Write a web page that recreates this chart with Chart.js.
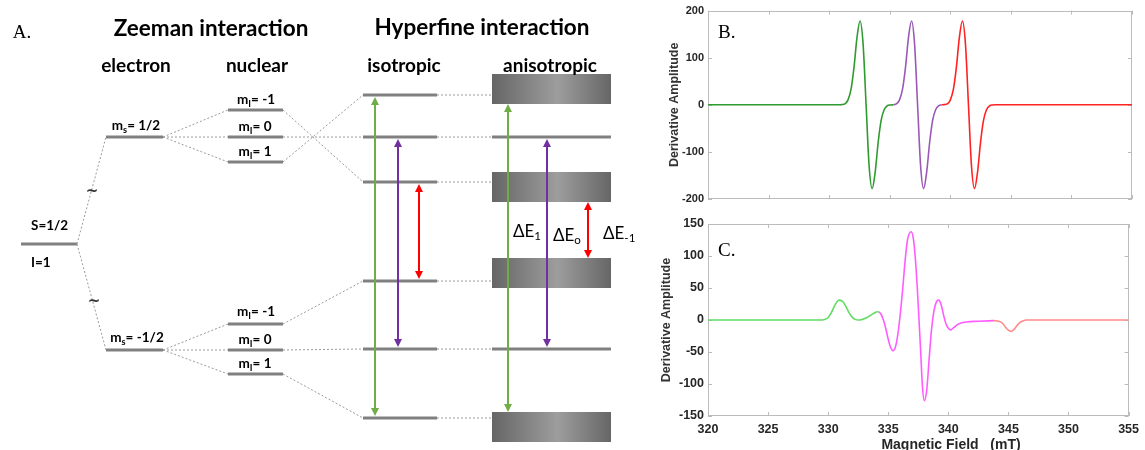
<!DOCTYPE html>
<html>
<head>
<meta charset="utf-8">
<script src="https://cdn.jsdelivr.net/npm/chart.js@4.4.1/dist/chart.umd.min.js"></script>
<style>
  html, body { margin: 0; padding: 0; background: #fff; }
  body { width: 1145px; height: 450px; position: relative; overflow: hidden; font-family: Lato, sans-serif; color: #000; }
  canvas { position: absolute; }
  .t { position: absolute; transform: translate(-50%, -50%); white-space: nowrap; line-height: 1; }
  .l { position: absolute; transform: translateY(-50%); white-space: nowrap; line-height: 1; }
  .head { font-weight: bold; font-size: 22.5px; }
  .sub { font-weight: bold; font-size: 19px; }
  .lvl { font-weight: bold; font-size: 13.5px; }
  .de { font-size: 17px; }
  .panel { font-family: 'Liberation Serif', serif; font-size: 19px; }
  .tilde { font-family: 'DejaVu Sans', sans-serif; font-size: 15px; font-weight: bold; color: #333; }
  sub { font-size: 0.68em; vertical-align: -0.3em; line-height: 0; }
  .xt { position: absolute; transform: translate(-50%, -50%); white-space: pre; font: bold 14px 'Liberation Sans', Arial, sans-serif; color: #262626; }
</style>
</head>
<body>
<canvas id="diagram" width="650" height="450" style="left:0;top:0"></canvas>
<canvas id="specB" width="490" height="212" style="left:655px;top:0"></canvas>
<canvas id="specC" width="490" height="238" style="left:655px;top:212px"></canvas>

<div class="t panel" style="left:22px;top:31px">A.</div>
<div class="t head" style="left:211px;top:28px">Zeeman interaction</div>
<div class="t head" style="left:482px;top:27px">Hyperfine interaction</div>
<div class="t sub" style="left:136px;top:64px">electron</div>
<div class="t sub" style="left:257px;top:64px">nuclear</div>
<div class="t sub" style="left:404px;top:64px">isotropic</div>
<div class="t sub" style="left:550px;top:64px">anisotropic</div>

<div class="l lvl" style="left:31px;top:226px">S=1/2</div>
<div class="l lvl" style="left:31px;top:263px">I=1</div>
<div class="t tilde" style="left:92px;top:191px">~</div>
<div class="t tilde" style="left:94px;top:301px">~</div>

<div class="t lvl" style="left:136px;top:126px">m<sub>s</sub>= 1/2</div>
<div class="t lvl" style="left:137px;top:338px">m<sub>s</sub>= -1/2</div>
<div class="t lvl" style="left:256px;top:100px">m<sub>I</sub>= -1</div>
<div class="t lvl" style="left:255px;top:127px">m<sub>I</sub>= 0</div>
<div class="t lvl" style="left:255px;top:152px">m<sub>I</sub>= 1</div>
<div class="t lvl" style="left:256px;top:312px">m<sub>I</sub>= -1</div>
<div class="t lvl" style="left:255px;top:340px">m<sub>I</sub>= 0</div>
<div class="t lvl" style="left:255px;top:364px">m<sub>I</sub>= 1</div>

<div class="l de" style="left:513px;top:230px">ΔE<sub>1</sub></div>
<div class="l de" style="left:553px;top:234px">ΔE<sub>o</sub></div>
<div class="l de" style="left:603px;top:232px">ΔE<sub>-1</sub></div>

<div class="l panel" style="left:718px;top:31px">B.</div>
<div class="l panel" style="left:718px;top:249px">C.</div>
<div class="xt" style="left:951px;top:444px">Magnetic Field   (mT)</div>

<script>
// ---- A: energy level diagram (diagram units, y grows downward) ----
const colLeft = [21, 106, 228, 363, 492];
const colRight = [77, 163, 283, 437, 611];
const spinLevels = [244];
const electronLevels = [137, 350];
const nuclearLevels = [110, 137, 162, 324, 350, 374];
const isoLevels = [95, 137, 182, 281, 349, 418];
// index of the parent level in the column before
const electronFrom = [0, 0];
const nuclearFrom = [0, 0, 0, 1, 1, 1];
const isoFrom = [2, 1, 0, 3, 4, 5];
// anisotropic broadening: band top / bottom, m_I = 0 stays sharp
const bandTop = [74, null, 172, 258, null, 412];
const bandBottom = [104, null, 202, 288, null, 442];
// EPR transitions (upper / lower isotropic level)
const transUpper = [0, 1, 2];
const transLower = [5, 4, 3];
const transColors = ['#70ad47', '#7030a0', '#ff0000'];
const isoArrowX = [375, 398, 419];
const anisoArrowX = [508, 547, 588];

// ---- B / C: EPR derivative spectra ----
const fieldTicks = [320, 325, 330, 335, 340, 345, 350, 355];
const bAmpTicks = [-200, -100, 0, 100, 200];
const cAmpTicks = [-150, -100, -50, 0, 50, 100, 150];

const bGreenField = [320, 330.8, 331.05, 331.3, 331.55, 331.8, 332.05, 332.3, 332.55, 332.8, 333.05, 333.3, 333.55, 333.8, 334.05, 334.3, 334.55, 334.8, 335.05, 335.3];
const bGreenAmp = [0, 0, 0.4, 2, 10, 32, 79, 143, 178, 130, 0, -130, -178, -143, -79, -32, -10, -2, -0.4, 0];
const bPurpleField = [335.3, 335.55, 335.8, 336.05, 336.3, 336.55, 336.8, 337.05, 337.3, 337.55, 337.8, 338.05, 338.3, 338.55, 338.8, 339.05, 339.3];
const bPurpleAmp = [0, 2, 10, 32, 79, 143, 178, 130, 0, -130, -178, -143, -79, -32, -10, -2, 0];
const bRedField = [339.3, 339.5, 339.75, 340, 340.25, 340.5, 340.75, 341, 341.25, 341.5, 341.75, 342, 342.25, 342.5, 342.75, 343, 343.25, 343.5, 343.75, 355];
const bRedAmp = [0, 0.4, 2, 10, 32, 79, 143, 178, 130, 0, -130, -178, -143, -79, -32, -10, -2, -0.4, 0, 0];

const cGreenField = [320, 329.5, 329.75, 330, 330.25, 330.5, 330.75, 330.95, 331.25, 331.5, 331.75, 332, 332.25, 332.5, 332.75, 333, 333.25, 333.5, 333.75, 334, 334.2];
const cGreenAmp = [0, 0, 1, 4, 11, 21, 29, 31, 28, 20, 11, 4.5, 1, 0, 0.5, 2, 4, 7, 10, 12.5, 13];
const cMagentaField = [334.2, 334.4, 334.6, 334.8, 335, 335.2, 335.4, 335.6, 335.8, 336, 336.2, 336.4, 336.6, 336.9, 337.1, 337.3, 337.5, 337.7, 337.85, 338, 338.2, 338.4, 338.6, 338.8, 339, 339.2, 339.4, 339.6, 339.8, 340, 340.2, 340.45, 340.7, 341, 341.5, 342.5, 343.8];
const cMagentaAmp = [13, 9, 0, -14, -30, -43, -48, -42, -22, 9, 48, 92, 125, 138, 126, 85, 22, -50, -105, -126, -110, -62, -15, 14, 28, 31, 24, 8, -6, -13, -15.5, -12, -8, -5, -3, -2, -1];
const cRedField = [343.8, 344.2, 344.5, 344.75, 345, 345.2, 345.45, 345.7, 345.95, 346.2, 346.5, 355];
const cRedAmp = [-1, -2, -5, -11, -16, -18, -15, -9, -4, -1.5, 0, 0];

// helpers for the diagram
function levelSegments(levels, col) {
    const pts = [];
    levels.forEach(y => {
        if (y === null) return;
        pts.push({x: colLeft[col], y: y}, {x: colRight[col], y: y}, {x: colRight[col], y: null});
    });
    return pts;
}

function connectors(prevLevels, prevCol, levels, from, col) {
    const pts = [];
    levels.forEach((y, i) => {
        pts.push({x: colRight[prevCol], y: prevLevels[from[i]]}, {x: colLeft[col], y: y}, {x: colLeft[col], y: null});
    });
    return pts;
}

const anisoLines = isoLevels.map((y, i) => bandTop[i] === null ? y : null);

const levelData = [].concat(
    levelSegments(spinLevels, 0),
    levelSegments(electronLevels, 1),
    levelSegments(nuclearLevels, 2),
    levelSegments(isoLevels, 3),
    levelSegments(anisoLines, 4)
);

const linkData = [].concat(
    connectors(spinLevels, 0, electronLevels, electronFrom, 1),
    connectors(electronLevels, 1, nuclearLevels, nuclearFrom, 2),
    connectors(nuclearLevels, 2, isoLevels, isoFrom, 3),
    connectors(isoLevels, 3, isoLevels, [0, 1, 2, 3, 4, 5], 4)
);

function drawArrow(ctx, x, yTop, yBottom, color) {
    const head = 8, half = 4;
    ctx.strokeStyle = color;
    ctx.fillStyle = color;
    ctx.lineWidth = 2;
    ctx.beginPath();
    ctx.moveTo(x, yTop + head - 1);
    ctx.lineTo(x, yBottom - head + 1);
    ctx.stroke();
    ctx.beginPath();
    ctx.moveTo(x, yTop);
    ctx.lineTo(x - half, yTop + head);
    ctx.lineTo(x + half, yTop + head);
    ctx.closePath();
    ctx.fill();
    ctx.beginPath();
    ctx.moveTo(x, yBottom);
    ctx.lineTo(x - half, yBottom - head);
    ctx.lineTo(x + half, yBottom - head);
    ctx.closePath();
    ctx.fill();
}

const diagramMarks = {
    id: 'diagramMarks',
    beforeDatasetsDraw(chart) {
        const {ctx, scales: {x, y}} = chart;
        ctx.save();
        const x0 = x.getPixelForValue(colLeft[4]);
        const x1 = x.getPixelForValue(colRight[4]);
        bandTop.forEach((top, i) => {
            if (top === null) return;
            const y0 = y.getPixelForValue(top);
            const y1 = y.getPixelForValue(bandBottom[i]);
            const g = ctx.createLinearGradient(x0, 0, x1, 0);
            g.addColorStop(0, '#666666');
            g.addColorStop(0.55, '#9d9d9d');
            g.addColorStop(1, '#666666');
            ctx.fillStyle = g;
            ctx.fillRect(x0, y0, x1 - x0, y1 - y0);
        });
        ctx.restore();
    },
    afterDatasetsDraw(chart) {
        const {ctx, scales: {x, y}} = chart;
        ctx.save();
        transUpper.forEach((up, i) => {
            const low = transLower[i];
            // isotropic: level to level
            drawArrow(ctx, x.getPixelForValue(isoArrowX[i]),
                y.getPixelForValue(isoLevels[up]) + 2, y.getPixelForValue(isoLevels[low]) - 2, transColors[i]);
            // anisotropic: band edge to band edge
            const top = bandBottom[up] !== null ? bandBottom[up] : isoLevels[up] + 2;
            const bottom = bandTop[low] !== null ? bandTop[low] : isoLevels[low] - 2;
            drawArrow(ctx, x.getPixelForValue(anisoArrowX[i]),
                y.getPixelForValue(top), y.getPixelForValue(bottom), transColors[i]);
        });
        ctx.restore();
    }
};

new Chart('diagram', {
    type: 'scatter',
    data: {
        datasets: [{
            data: linkData,
            showLine: true,
            borderColor: '#9a9a9a',
            borderWidth: 1,
            borderDash: [2, 2],
            pointRadius: 0,
            spanGaps: false
        }, {
            data: levelData,
            showLine: true,
            borderColor: '#808080',
            borderWidth: 3,
            pointRadius: 0,
            spanGaps: false
        }]
    },
    options: {
        responsive: false,
        animation: false,
        layout: { padding: 0 },
        plugins: { legend: { display: false }, tooltip: { enabled: false } },
        scales: {
            x: { type: 'linear', display: false, min: 0, max: 650 },
            y: { type: 'linear', display: false, min: 0, max: 450, reverse: true }
        }
    },
    plugins: [diagramMarks]
});

// frame with inward ticks, like the original plotting program
const boxTicks = {
    id: 'boxTicks',
    beforeDatasetsDraw(chart, args, opts) {
        const {ctx, chartArea: a, scales: {x, y}} = chart;
        ctx.save();
        ctx.strokeStyle = '#bcbcbc';
        ctx.lineWidth = 1;
        ctx.strokeRect(Math.round(a.left) + 0.5, Math.round(a.top) + 0.5, Math.round(a.width) - 1, Math.round(a.height) - 1);
        ctx.beginPath();
        fieldTicks.forEach(v => {
            const px = Math.round(x.getPixelForValue(v)) + 0.5;
            ctx.moveTo(px, a.top); ctx.lineTo(px, a.top + 4);
            ctx.moveTo(px, a.bottom); ctx.lineTo(px, a.bottom - 4);
        });
        opts.yTicks.forEach(v => {
            const py = Math.round(y.getPixelForValue(v)) + 0.5;
            ctx.moveTo(a.left, py); ctx.lineTo(a.left + 4, py);
            ctx.moveTo(a.right, py); ctx.lineTo(a.right - 4, py);
        });
        ctx.stroke();
        ctx.restore();
    }
};

function series(field, amp, color) {
    return {
        data: field.map((f, i) => ({x: f, y: amp[i]})),
        showLine: true,
        borderColor: color,
        borderWidth: 1.6,
        pointRadius: 0,
        cubicInterpolationMode: 'monotone'
    };
}

function spectrumChart(id, datasets, yTicks, cfg) {
    const tickFont = { family: "'Liberation Sans', Arial, sans-serif", size: cfg.tickSize, weight: 'bold' };
    return new Chart(id, {
        type: 'scatter',
        data: { datasets: datasets },
        options: {
            responsive: false,
            animation: false,
            layout: { padding: cfg.padding },
            plugins: {
                legend: { display: false },
                tooltip: { enabled: false },
                boxTicks: { yTicks: yTicks }
            },
            scales: {
                x: {
                    type: 'linear',
                    min: 320,
                    max: 355,
                    grid: { display: false, drawTicks: false },
                    border: { display: false },
                    afterBuildTicks: s => { s.ticks = fieldTicks.map(v => ({value: v})); },
                    ticks: { display: cfg.showX, padding: 6, color: '#262626', font: tickFont },
                    afterFit: s => { s.height = cfg.xHeight; }
                },
                y: {
                    min: yTicks[0],
                    max: yTicks[yTicks.length - 1],
                    grid: { display: false, drawTicks: false },
                    border: { display: false },
                    afterBuildTicks: s => { s.ticks = yTicks.map(v => ({value: v})); },
                    ticks: { padding: 4, color: '#262626', font: tickFont },
                    title: {
                        display: true,
                        text: 'Derivative Amplitude',
                        color: '#333',
                        padding: { top: cfg.titlePad, bottom: 0 },
                        font: { family: "'Liberation Sans', Arial, sans-serif", size: 12.5, weight: 'bold' }
                    },
                    afterFit: s => { s.width = 53; }
                }
            }
        },
        plugins: [boxTicks]
    });
}

spectrumChart('specB', [
    series(bGreenField, bGreenAmp, '#2f9a2f'),
    series(bPurpleField, bPurpleAmp, '#9b59b6'),
    series(bRedField, bRedAmp, '#ff2222')
], bAmpTicks, { padding: {top: 6, right: 13, bottom: 13, left: 0}, showX: false, xHeight: 0, tickSize: 11, titlePad: 12 });

spectrumChart('specC', [
    series(cGreenField, cGreenAmp, '#62dc62'),
    series(cMagentaField, cMagentaAmp, '#ff5cff'),
    series(cRedField, cRedAmp, '#ff8c8c')
], cAmpTicks, { padding: {top: 12, right: 12, bottom: 0, left: 0}, showX: true, xHeight: 34, tickSize: 12.5, titlePad: 4 });
</script>
</body>
</html>
